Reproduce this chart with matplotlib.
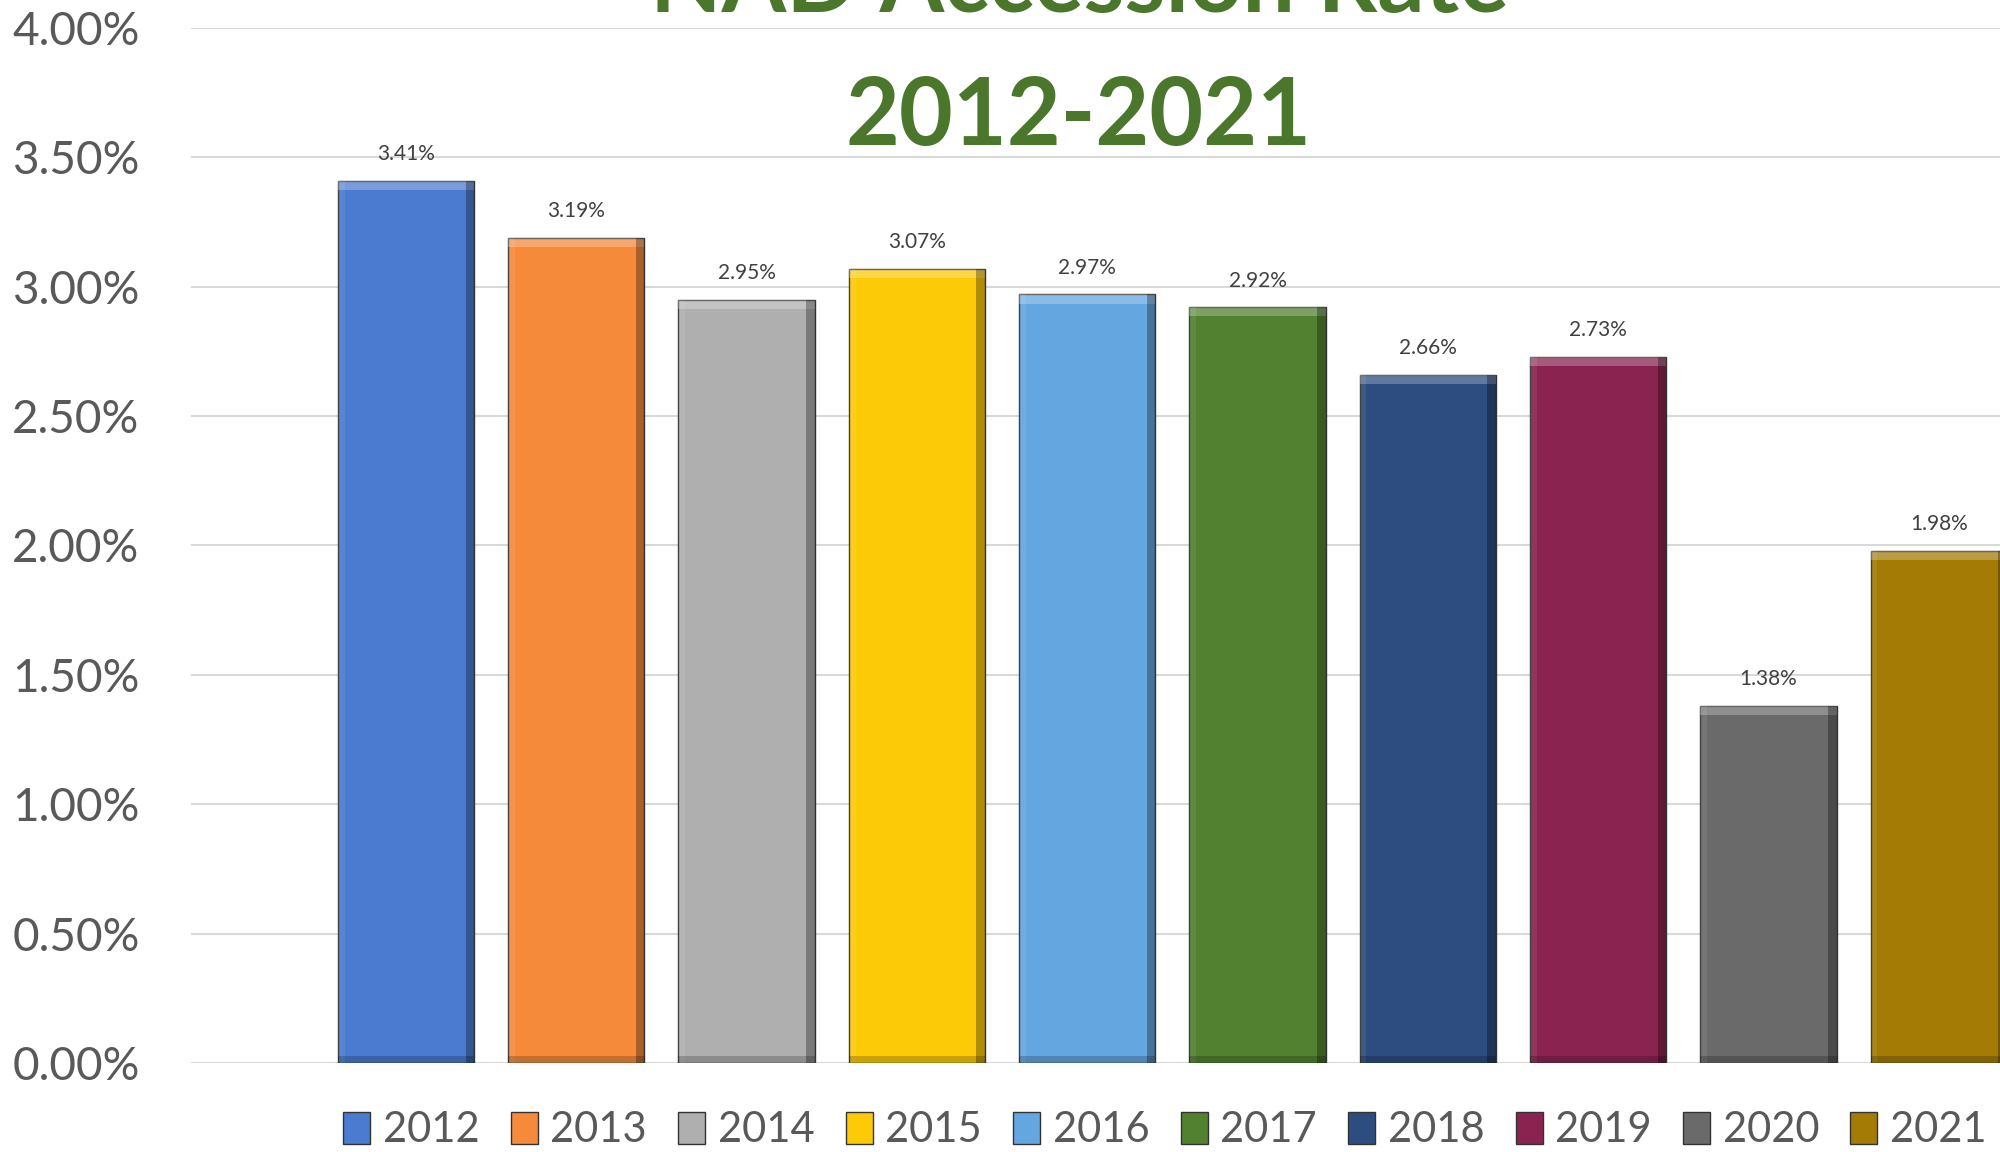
"""NAD accession rate bar chart, 2012-2021."""

import matplotlib
matplotlib.use("Agg")
import matplotlib.pyplot as plt
from matplotlib.patches import Rectangle
from matplotlib.ticker import FuncFormatter, MultipleLocator

years = ["2012", "2013", "2014", "2015", "2016", "2017", "2018", "2019", "2020", "2021"]
rates = [0.0341, 0.0319, 0.0295, 0.0307, 0.0297, 0.0292, 0.0266, 0.0273, 0.0138, 0.0198]
colors = ["#4A7BD0", "#F68A3B", "#AFAFAF", "#FDCA08", "#64A6E0",
          "#52822F", "#2D4C80", "#8A2350", "#6A6A6A", "#A37B05"]

plt.rcParams["font.family"] = ["Lato", "DejaVu Sans"]

fig = plt.figure(figsize=(20, 11.52), dpi=100)
ax = fig.add_axes([0.0955, 0.0773, 0.9045, 0.8984])

x = list(range(len(years)))
bars = ax.bar(x, rates, width=0.8, color=colors, edgecolor="#333333",
              linewidth=1.0, zorder=3, label=years)

# rough bevel look: light top edge, dark right edge
for b in bars:
    bx, by, bw, bh = b.get_x(), b.get_y(), b.get_width(), b.get_height()
    ax.add_patch(Rectangle((bx, by + bh - 0.00035), bw, 0.00035,
                           color="white", alpha=0.25, lw=0, zorder=4))
    ax.add_patch(Rectangle((bx + bw - 0.05, by), 0.05, bh,
                           color="black", alpha=0.3, lw=0, zorder=4))
    ax.add_patch(Rectangle((bx, by), 0.04, bh,
                           color="white", alpha=0.08, lw=0, zorder=4))
    ax.add_patch(Rectangle((bx, by), bw, 0.00025,
                           color="black", alpha=0.2, lw=0, zorder=4))

ax.bar_label(bars, labels=[f"{v:.2%}" for v in rates], padding=12,
             fontsize=15, color="#404040")

ax.set_xlim(-1.262, 9.36)
ax.set_ylim(0, 0.04)
ax.yaxis.set_major_locator(MultipleLocator(0.005))
ax.yaxis.set_major_formatter(FuncFormatter(lambda v, _: f"{v:.2%}"))
ax.tick_params(axis="y", length=0, pad=37, labelsize=33, labelcolor="#595959")
ax.tick_params(axis="x", length=0, labelbottom=False)
ax.grid(axis="y", color="#D9D9D9", linewidth=1.5, zorder=0)
for s in ax.spines.values():
    s.set_visible(False)

fig.text(0.5395, 0.99, "NAD Accession Rate", ha="center", va="baseline",
         fontsize=67, fontweight="bold", color="#4A772B")
fig.text(0.5395, 0.874, "2012-2021", ha="center", va="baseline",
         fontsize=67, fontweight="bold", color="#4A772B")

fig.legend(handles=list(bars), labels=years, loc="center",
           bbox_to_anchor=(0.5825, 0.019), ncol=10, frameon=False,
           fontsize=30, labelcolor="#595959", handlelength=0.65,
           handleheight=0.8, handletextpad=0.3, columnspacing=0.75,
           borderpad=0, borderaxespad=0)

fig.savefig("out.png", dpi=100)
